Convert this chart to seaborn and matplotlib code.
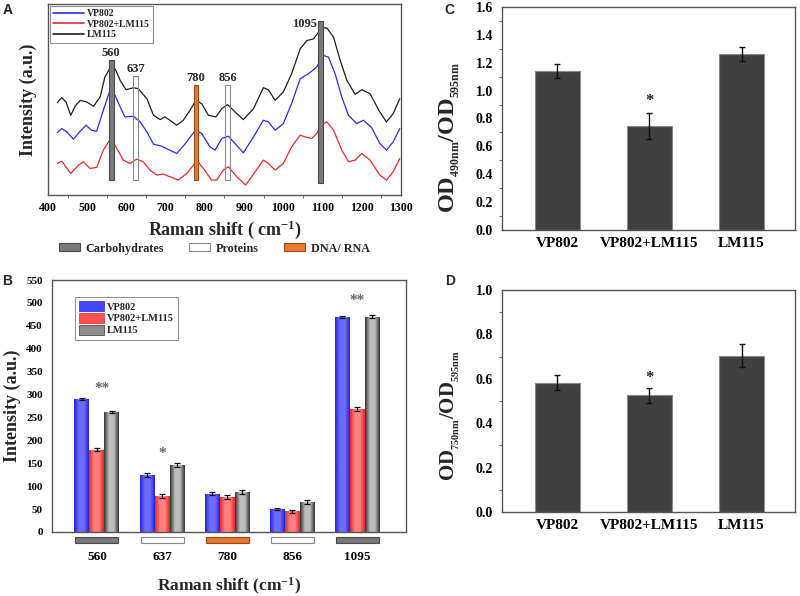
import numpy as np
import pandas as pd
import matplotlib
matplotlib.use('Agg')
import matplotlib.pyplot as plt
import seaborn as sns
from matplotlib.patches import Patch, Rectangle
from matplotlib.lines import Line2D
from matplotlib.ticker import MultipleLocator, FormatStrFormatter
from matplotlib.colors import LinearSegmentedColormap
import matplotlib.transforms as mtransforms

# ---- Panel A: Raman spectra (arbitrary units) ----
wn_lm = [424, 435, 446, 458, 469, 482, 499, 516, 533, 545, 561, 571, 584, 599, 618,
         630, 652, 669, 686, 698, 711, 728, 745, 762, 777, 792, 809, 828, 843, 858,
         877, 898, 924, 949, 962, 979, 1000, 1021, 1043, 1060, 1077, 1098, 1111, 1128, 1145,
         1162, 1183, 1200, 1221, 1246, 1263, 1280, 1297]
int_lm = [278, 293, 280, 240, 267, 285, 280, 267, 295, 355, 388, 380, 345, 317, 323,
          320, 290, 240, 227, 235, 225, 210, 225, 255, 285, 275, 240, 235, 260, 272,
          250, 227, 260, 323, 317, 285, 310, 365, 440, 465, 470, 503, 503, 475, 405,
          345, 303, 317, 305, 250, 220, 245, 290]

wn_vp = [424, 435, 448, 465, 482, 497, 511, 524, 541, 558, 571, 584, 596, 618, 635,
         652, 669, 690, 707, 728, 749, 766, 777, 792, 813, 826, 843, 860, 877, 898,
         924, 949, 962, 979, 1000, 1021, 1043, 1064, 1085, 1102, 1115, 1132, 1149, 1166, 1187,
         1204, 1225, 1246, 1263, 1280, 1297]
int_vp = [188, 200, 190, 168, 192, 210, 195, 192, 255, 315, 300, 265, 235, 237, 220,
          190, 153, 147, 137, 125, 153, 180, 195, 185, 145, 135, 170, 177, 155, 127,
          175, 225, 220, 195, 215, 275, 350, 365, 385, 420, 415, 365, 295, 240, 215,
          225, 203, 155, 135, 160, 200]

wn_mix = [424, 435, 458, 478, 490, 507, 524, 541, 556, 571, 592, 609, 626, 643, 660,
          677, 694, 711, 732, 754, 771, 781, 796, 817, 830, 847, 860, 881, 904, 928,
          949, 962, 979, 1000, 1021, 1043, 1055, 1072, 1085, 1098, 1111, 1128, 1149, 1166, 1183,
          1200, 1221, 1246, 1263, 1280, 1297]
int_mix = [95, 102, 65, 90, 100, 80, 83, 135, 163, 150, 105, 95, 108, 100, 75,
           60, 63, 55, 45, 65, 90, 102, 80, 45, 45, 75, 85, 55, 30, 70,
           105, 95, 75, 95, 145, 180, 175, 170, 185, 213, 220, 195, 135, 100, 105,
           125, 105, 60, 45, 70, 110]

strains = ['VP802', 'VP802+LM115', 'LM115']

# marker bands in panel A
band_pos = [561, 623, 777, 858, 1095]
band_low = [45, 45, 45, 45, 35]
band_high = [405, 358, 330, 330, 525]
band_kind = ['Carbohydrates', 'Proteins', 'DNA/ RNA', 'Proteins', 'Carbohydrates']
band_label = ['560', '637', '780', '856', '1095']

# ---- Panel B: peak intensities ----
peaks = ['560', '637', '780', '856', '1095']
vp_B = [290, 125, 84, 50, 469]
mix_B = [180, 79, 76, 45, 268]
lm_B = [262, 146, 88, 65, 470]
vp_Berr = [3, 4, 4, 3, 3]
mix_Berr = [4, 4, 4, 3, 5]
lm_Berr = [3, 4, 4, 4, 4]

# ---- Panels C and D ----
od490 = [1.14, 0.745, 1.265]
od490_err = [0.05, 0.095, 0.05]
od750 = [0.583, 0.525, 0.705]
od750_err = [0.032, 0.035, 0.052]

# ---- style ----
sns.set_style('white')
plt.rcParams['font.family'] = ['Liberation Serif', 'DejaVu Serif']
plt.rcParams['font.weight'] = 'bold'
plt.rcParams['axes.labelweight'] = 'bold'
plt.rcParams['mathtext.fontset'] = 'custom'
plt.rcParams['mathtext.rm'] = 'Liberation Serif:bold'
plt.rcParams['mathtext.it'] = 'Liberation Serif:bold'
plt.rcParams['mathtext.bf'] = 'Liberation Serif:bold'

spine_col = '#555555'
line_colors = {'VP802': '#2b2bf0', 'VP802+LM115': '#e82a2a', 'LM115': '#1e1e1e'}
kind_face = {'Carbohydrates': '#7a7a7a', 'Proteins': 'white', 'DNA/ RNA': '#e8792f'}
kind_edge = {'Carbohydrates': '#4a4a4a', 'Proteins': '#8a8a8a', 'DNA/ RNA': '#9a4a10'}
bar_grad = {'VP802': ('#2424d8', '#6c6cff'),
            'VP802+LM115': ('#e02828', '#ff8080'),
            'LM115': ('#333333', '#bdbdbd')}
bar_mid = {'VP802': '#4646ff', 'VP802+LM115': '#ff4f4f', 'LM115': '#8c8c8c'}


def frame(ax):
    for s in ax.spines.values():
        s.set_visible(True)
        s.set_color(spine_col)
        s.set_linewidth(1.0)
    ax.tick_params(colors='black', length=3, width=0.8, direction='out')
    ax.tick_params(axis='both', which='both', color=spine_col)


fig = plt.figure(figsize=(8, 5.96), dpi=100)

# ===================== A =====================
axA = fig.add_axes([0.06, 0.6728, 0.44125, 0.3205])
spec = pd.concat([
    pd.DataFrame({'wn': wn_vp, 'I': int_vp, 'strain': 'VP802'}),
    pd.DataFrame({'wn': wn_mix, 'I': int_mix, 'strain': 'VP802+LM115'}),
    pd.DataFrame({'wn': wn_lm, 'I': int_lm, 'strain': 'LM115'}),
])
sns.lineplot(data=spec, x='wn', y='I', hue='strain', hue_order=strains,
             palette=line_colors, estimator=None, lw=0.9, legend=False, ax=axA)
for c, lo, hi, k, lab in zip(band_pos, band_low, band_high, band_kind, band_label):
    axA.bar(c, hi - lo, bottom=lo, width=12, color=kind_face[k],
            edgecolor=kind_edge[k], lw=0.8, zorder=3,
            fill=(k != 'Proteins'))
    if lab == '1095':
        axA.text(c - 8, hi - 10, lab, ha='right', va='center', fontsize=9)
    else:
        axA.text(c, hi + 4, lab, ha='center', va='bottom', fontsize=9)
axA.set_xlim(400, 1300)
axA.set_ylim(0, 575)
axA.xaxis.set_major_locator(MultipleLocator(100))
axA.xaxis.set_minor_locator(MultipleLocator(50))
axA.set_yticks([])
frame(axA)
axA.tick_params(axis='x', which='minor', length=2, bottom=True)
axA.tick_params(axis='x', labelsize=8.5, pad=2)
axA.set_xlabel('Raman shift ( cm$^{-1}$)', fontsize=13, labelpad=3)
axA.set_ylabel('Intensity (a.u.)', fontsize=13, labelpad=8)
hA = [Line2D([], [], color=line_colors[s], lw=1.2) for s in strains]
legA = axA.legend(hA, strains, loc='upper left', fontsize=7, frameon=True,
                  fancybox=False, handlelength=3.2, borderaxespad=0.2,
                  labelspacing=0.15, borderpad=0.35, handletextpad=0.2)
legA.get_frame().set_edgecolor('#777777')
legA.get_frame().set_linewidth(0.8)

fig.legend([Patch(facecolor=kind_face[k], edgecolor=kind_edge[k], lw=0.8)
            for k in ['Carbohydrates', 'Proteins', 'DNA/ RNA']],
           ['Carbohydrates', 'Proteins', 'DNA/ RNA'],
           loc='center', bbox_to_anchor=(0.268, 0.583), ncol=3, frameon=False,
           fontsize=8.7, handlelength=1.7, handleheight=0.65, columnspacing=2.1,
           handletextpad=0.5)

# ===================== B =====================
axB = fig.add_axes([0.065, 0.1074, 0.4425, 0.4228])
dfB = pd.concat([
    pd.DataFrame({'peak': peaks, 'I': vp_B, 'strain': 'VP802'}),
    pd.DataFrame({'peak': peaks, 'I': mix_B, 'strain': 'VP802+LM115'}),
    pd.DataFrame({'peak': peaks, 'I': lm_B, 'strain': 'LM115'}),
])
sns.barplot(data=dfB, x='peak', y='I', hue='strain', order=peaks, hue_order=strains,
            palette=bar_mid, width=0.69, gap=0, errorbar=None, legend=False,
            lw=0, ax=axB)
errs = {'VP802': vp_Berr, 'VP802+LM115': mix_Berr, 'LM115': lm_Berr}
for s, cont in zip(strains, axB.containers):
    dark, light = bar_grad[s]
    cmap = LinearSegmentedColormap.from_list('g', [dark, light, light, dark])
    grad = np.linspace(0, 1, 64).reshape(1, -1)
    xs, ys = [], []
    for p in cont.patches:
        x0, y0, w, h = p.get_x(), p.get_y(), p.get_width(), p.get_height()
        im = axB.imshow(grad, cmap=cmap, extent=[x0, x0 + w, y0, y0 + h],
                        aspect='auto', zorder=p.get_zorder() + 0.1)
        im.set_clip_path(p)
        xs.append(x0 + w / 2)
        ys.append(y0 + h)
    axB.errorbar(xs, ys, yerr=errs[s], fmt='none', ecolor='#111111',
                 elinewidth=0.9, capsize=2.2, capthick=0.9, zorder=5)
axB.text(0.07, 314, '**', ha='center', va='center', fontsize=11, color='#666666')
axB.text(1.0, 172, '*', ha='center', va='center', fontsize=11, color='#666666')
axB.text(4.0, 506, '**', ha='center', va='center', fontsize=11, color='#666666')
axB.set_xlim(-0.69, 4.745)
axB.set_ylim(0, 550)
axB.yaxis.set_major_locator(MultipleLocator(50))
frame(axB)
axB.tick_params(axis='y', labelsize=8)
axB.tick_params(axis='x', length=0, labelsize=9.5, pad=14)
trans = mtransforms.blended_transform_factory(axB.transData, axB.transAxes)
for i, k in enumerate(band_kind):
    axB.add_patch(Rectangle((i - 0.33, -0.0437), 0.66, 0.0238, transform=trans,
                            facecolor=kind_face[k], edgecolor=kind_edge[k],
                            lw=0.8, clip_on=False))
axB.set_xlabel('Raman shift (cm$^{-1}$)', fontsize=12.5, labelpad=9)
axB.set_ylabel('Intensity (a.u.)', fontsize=13, labelpad=4)
hB = [Patch(facecolor=bar_mid[s], edgecolor=bar_grad[s][0], lw=0.5) for s in strains]
legB = axB.legend(hB, strains, loc='upper left', bbox_to_anchor=(0.05, 0.955),
                  fontsize=7.5, frameon=True, fancybox=False, handlelength=2.4,
                  handleheight=1.2, labelspacing=0.1, borderpad=0.4,
                  handletextpad=0.3)
legB.get_frame().set_edgecolor('#777777')
legB.get_frame().set_linewidth(0.8)


# ===================== C and D =====================
def od_panel(rect, vals, errs_, top, ylabel, star_y, lab_size, lab_y):
    ax = fig.add_axes(rect)
    sns.barplot(x=strains, y=vals, color='#404040', edgecolor='#8a8a8a', lw=0.8,
                width=0.49, errorbar=None, saturation=1, ax=ax)
    xs = [p.get_x() + p.get_width() / 2 for p in ax.patches]
    ax.errorbar(xs, vals, yerr=errs_, fmt='none', ecolor='#111111',
                elinewidth=1.0, capsize=2.5, capthick=1.0, zorder=5)
    ax.text(1, star_y, '*', ha='center', va='center', fontsize=12)
    ax.set_xlim(-0.6, 2.58)
    ax.set_ylim(0, top)
    ax.yaxis.set_major_locator(MultipleLocator(0.2))
    ax.yaxis.set_minor_locator(MultipleLocator(0.1))
    ax.yaxis.set_major_formatter(FormatStrFormatter('%.1f'))
    frame(ax)
    ax.tick_params(axis='y', which='minor', length=2, left=True)
    ax.tick_params(axis='y', labelsize=10)
    ax.tick_params(axis='x', length=0, labelsize=11, pad=5)
    ax.set_ylabel(ylabel, fontsize=lab_size)
    ax.yaxis.set_label_coords(-0.137, lab_y)
    return ax


axC = od_panel([0.6275, 0.6141, 0.36625, 0.3742], od490, od490_err, 1.6,
               r'OD$_{_{\mathrm{490nm}}}$/OD$_{_{\mathrm{595nm}}}$', 0.925, 17.5, 0.417)
axD = od_panel([0.6275, 0.1409, 0.36625, 0.3725], od750, od750_err, 1.0,
               r'OD$_{_{\mathrm{750nm}}}$/OD$_{_{\mathrm{595nm}}}$', 0.604, 15, 0.432)

# panel letters
for lab, x, y in [('A', 0.003, 0.995), ('B', 0.003, 0.54), ('C', 0.556, 0.995), ('D', 0.556, 0.54)]:
    fig.text(x, y, lab, family=['Liberation Sans', 'DejaVu Sans'], weight='bold',
             fontsize=10, ha='left', va='top')

fig.savefig('out.png', dpi=100)
